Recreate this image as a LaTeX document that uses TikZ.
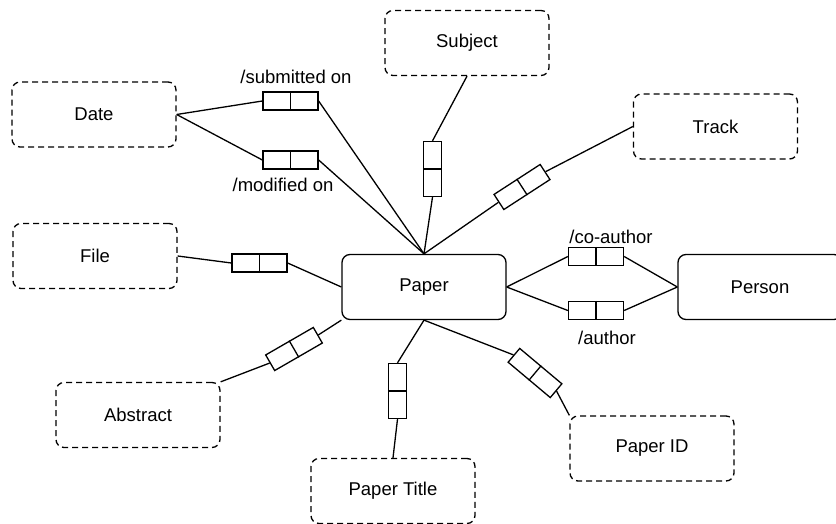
\documentclass[tikz,border=0pt]{standalone}
\usepackage{fontspec}
\setmainfont{Liberation Sans}
\begin{document}
\begin{tikzpicture}[x=1pt,y=-1pt,
  every node/.style={font=\fontsize{18.5}{22}\selectfont},
  entity/.style={draw, rounded corners=8pt, line width=1.3pt,
    minimum width=164pt, minimum height=65pt, inner sep=0pt},
  attr/.style={entity, dashed, dash pattern=on 6pt off 4pt},
  linkbox/.style={draw, line width=1.3pt, fill=white,
    minimum width=55pt, minimum height=18pt, inner sep=0pt},
  rel/.style={line width=1.3pt},
  lbl/.style={inner sep=0pt}]
\useasboundingbox (0,0) rectangle (836,524);

% classes
\node[entity] (paper)  at (424,287)   {Paper};
\node[entity] (person) at (760,287)   {Person};

% attributes
\node[attr] (date)    at (94,114.5)  {Date};
\node[attr] (subject) at (467,43)    {Subject};
\node[attr] (track)   at (715.5,126.5) {Track};
\node[attr] (file)    at (95,256)    {File};
\node[attr] (abstract) at (138,415)  {Abstract};
\node[attr] (ptitle)  at (393,491)   {Paper Title};
\node[attr] (pid)     at (652,448.5) {Paper ID};

% association end boxes
\node[linkbox]            (lsub)  at (290.5,101)   {};
\node[linkbox]            (lmod)  at (290.5,160)   {};
\node[linkbox, rotate=90] (lsubj) at (432.5,169)   {};
\node[linkbox, rotate=33] (ltrack) at (522,187)    {};
\node[linkbox]            (lfile) at (259.5,263)   {};
\node[linkbox]            (lco)   at (596,256.5)   {};
\node[linkbox]            (lauth) at (596,310.5)   {};
\node[linkbox, rotate=30] (labs)  at (294,349)     {};
\node[linkbox, rotate=90] (ltitle) at (397.5,391)  {};
\node[linkbox, rotate=-40] (lpid) at (535,373)     {};

\foreach \b in {lsub,lmod,lsubj,ltrack,lfile,lco,lauth,labs,ltitle,lpid}
  \draw[rel] (\b.north) -- (\b.south);

% connectors
\draw[rel] (date.east) -- (lsub.west);
\draw[rel] (lsub.east) -- (paper.north);
\draw[rel] (date.east) -- (lmod.west);
\draw[rel] (lmod.east) -- (paper.north);
\draw[rel] (subject.south) -- (lsubj.east);
\draw[rel] (lsubj.west) -- (paper.north);
\draw[rel] (paper.north) -- (ltrack.west);
\draw[rel] (ltrack.east) -- (track.west);
\draw[rel] (file.east) -- (lfile.west);
\draw[rel] (lfile.east) -- (paper.west);
\draw[rel] (paper.east) -- (lco.west);
\draw[rel] (lco.east) -- (person.west);
\draw[rel] (paper.east) -- (lauth.west);
\draw[rel] (lauth.east) -- (person.west);
\draw[rel] (abstract.north east) -- (labs.west);
\draw[rel] (labs.east) -- (paper.south west);
\draw[rel] (paper.south) -- (ltitle.east);
\draw[rel] (ltitle.west) -- (ptitle.north);
\draw[rel] (paper.south) -- (lpid.west);
\draw[rel] (lpid.east) -- (pid.north west);

% role names
\node[lbl] (tsub)  at (296,77)  {/submitted on};
\node[lbl] (tmod)  at (283,185) {/modified on};
\node[lbl] (tco)   at (611,237) {/co-author};
\node[lbl] (tauth) at (607,338) {/author};
\end{tikzpicture}
\end{document}
